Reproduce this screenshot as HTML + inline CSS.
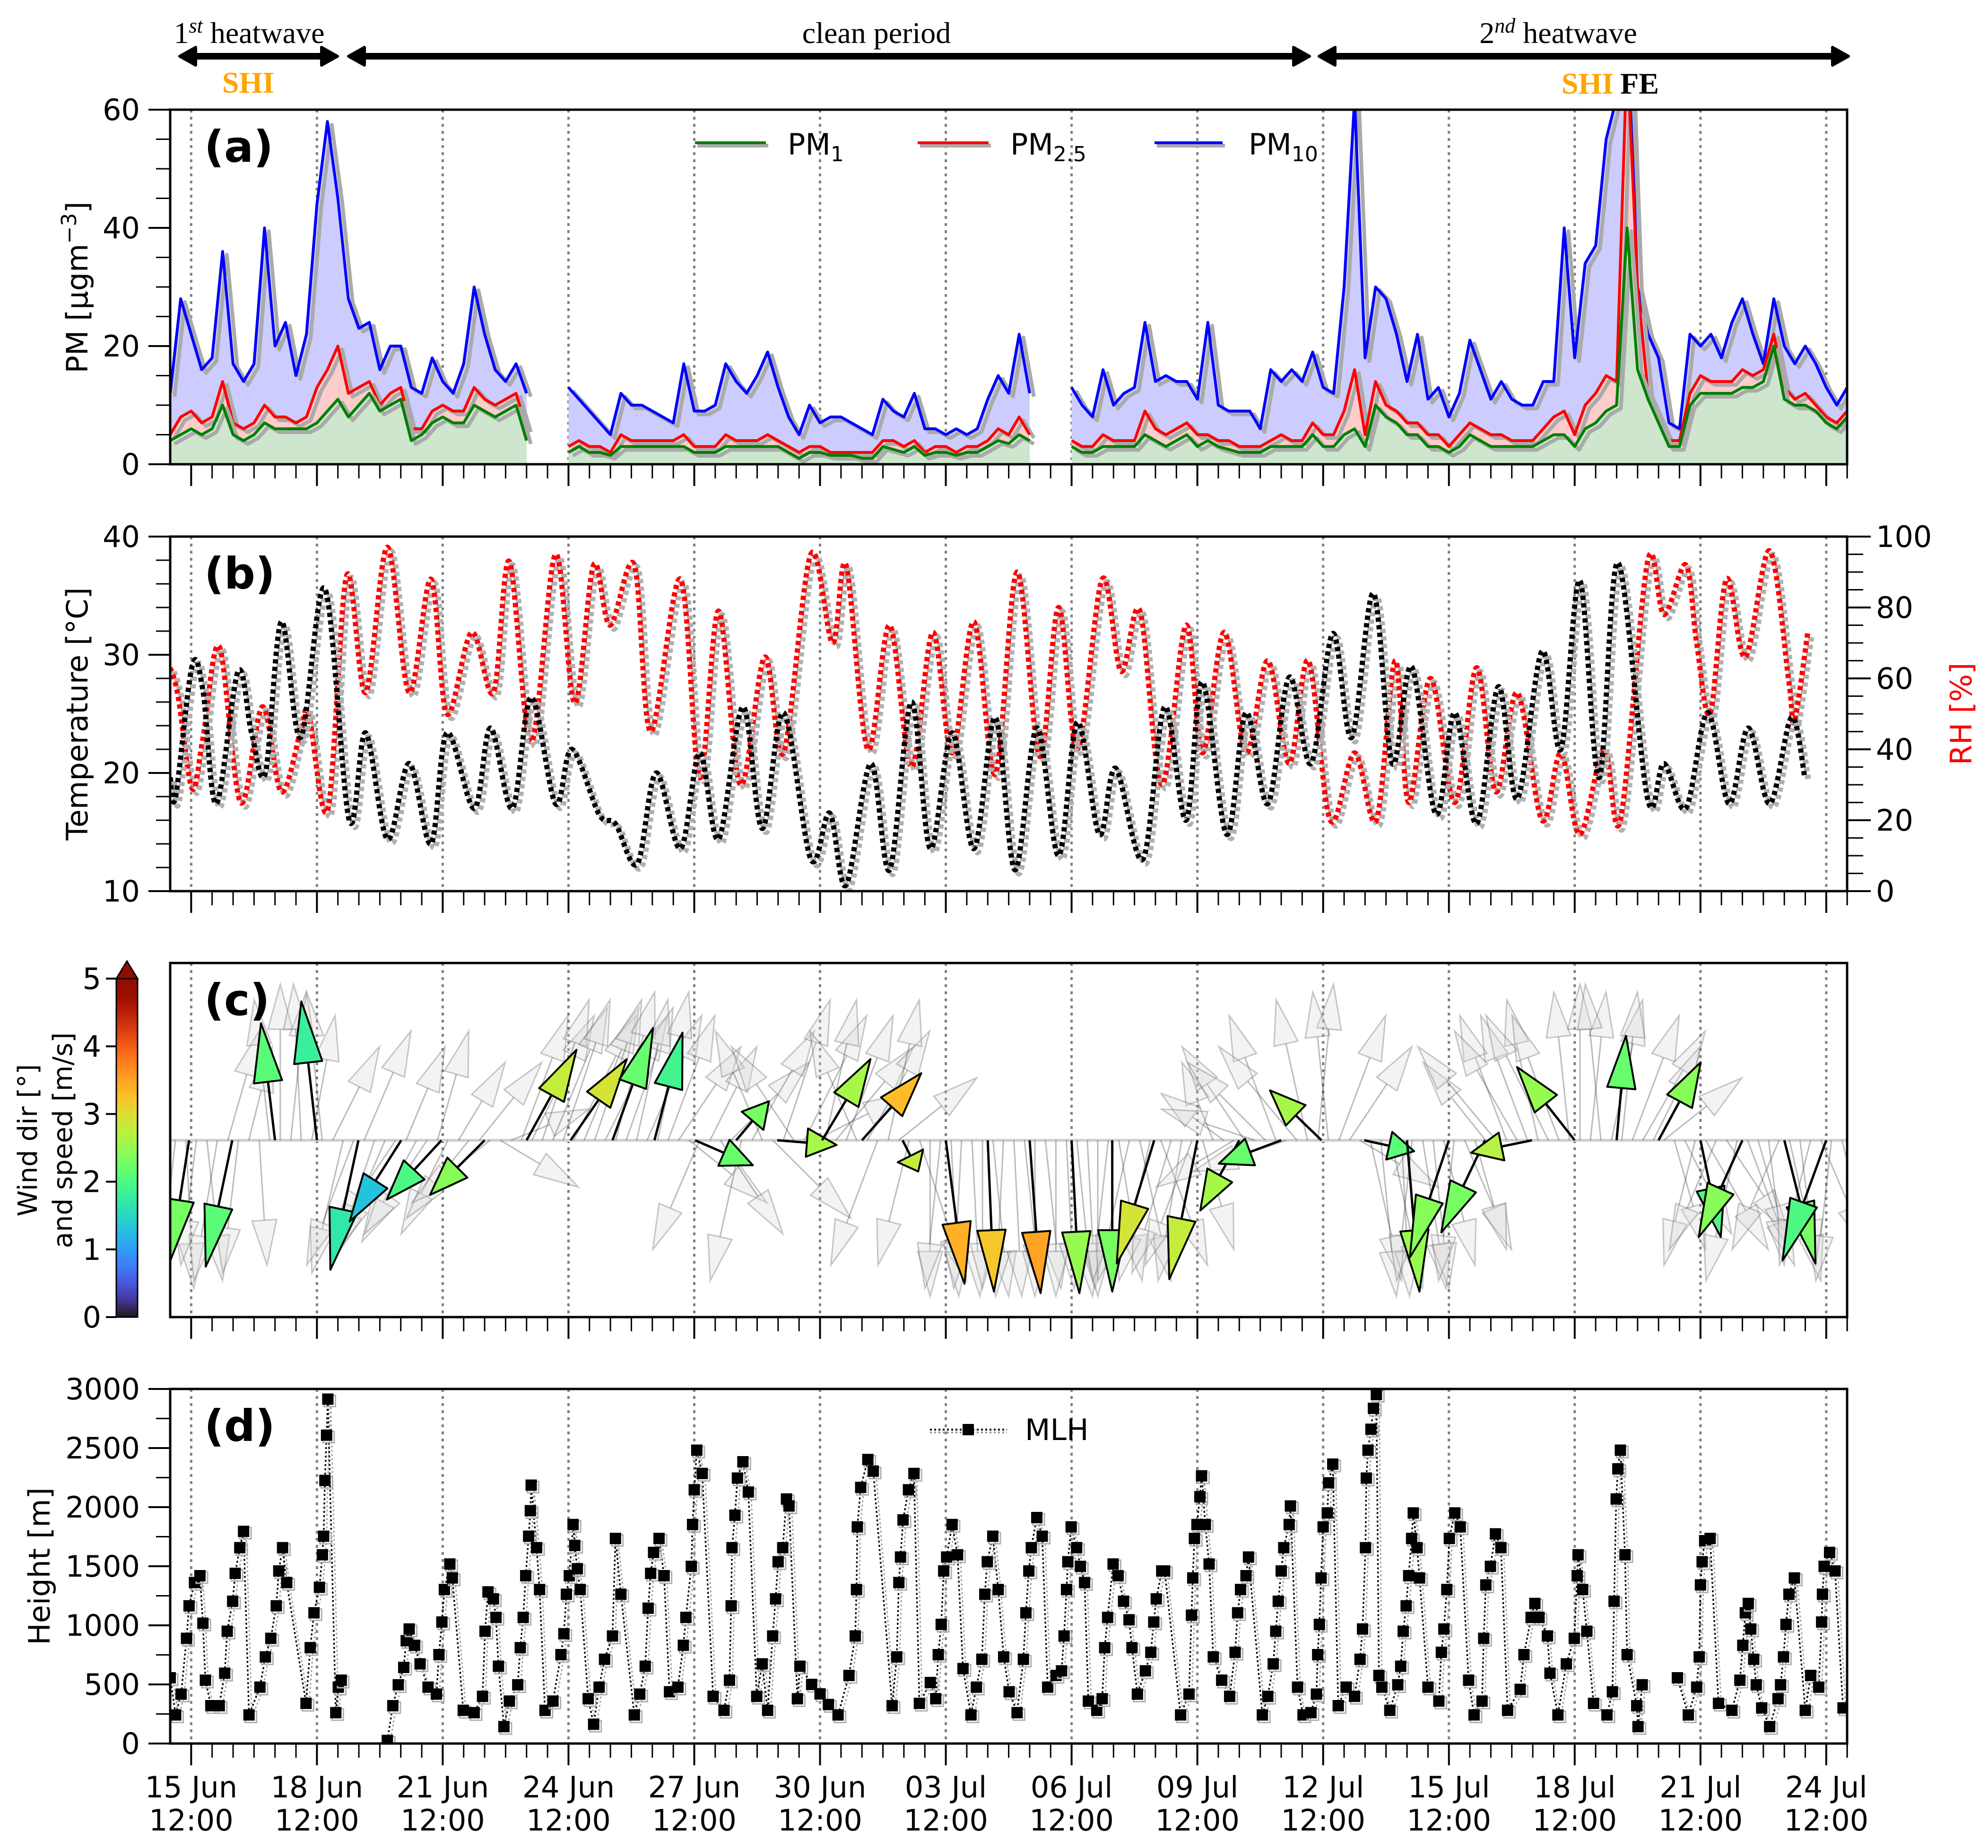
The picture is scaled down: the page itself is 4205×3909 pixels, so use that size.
<!DOCTYPE html>
<html><head><meta charset="utf-8">
<style>
html,body{margin:0;padding:0;background:#fff;}
svg{display:block;font-family:"DejaVu Sans","Liberation Sans",sans-serif;}
</style></head>
<body>
<svg id="chart" xmlns="http://www.w3.org/2000/svg" width="4205" height="3909" viewBox="0 0 4205 3909">
<defs>
<clipPath id="clipA"><rect x="360" y="232" width="3547" height="750"/></clipPath>
<clipPath id="clipB"><rect x="360" y="1135" width="3547" height="750"/></clipPath>
<clipPath id="clipC"><rect x="360" y="2037" width="3547" height="749"/></clipPath>
<clipPath id="clipD"><rect x="360" y="2938" width="3547" height="750"/></clipPath>
<linearGradient id="cbGrad" x1="0" y1="1" x2="0" y2="0"></linearGradient>
</defs>
<g id="top-annot">
<text x="527" y="91" text-anchor="middle" font-family="Liberation Serif,serif" font-size="64">1<tspan font-style="italic" font-size="44" dy="-22">st</tspan><tspan dy="22"> heatwave</tspan></text>
<text x="1854" y="91" text-anchor="middle" font-family="Liberation Serif,serif" font-size="64">clean period</text>
<text x="3296" y="91" text-anchor="middle" font-family="Liberation Serif,serif" font-size="64">2<tspan font-style="italic" font-size="44" dy="-22">nd</tspan><tspan dy="22"> heatwave</tspan></text>
<text x="525" y="196" text-anchor="middle" font-family="Liberation Serif,serif" font-weight="bold" font-size="64" fill="#FFA500">SHI</text>
<text x="3358" y="198" text-anchor="middle" font-family="Liberation Serif,serif" font-weight="bold" font-size="64" fill="#FFA500">SHI</text>
<text x="3468" y="198" text-anchor="middle" font-family="Liberation Serif,serif" font-weight="bold" font-size="64" fill="#000">FE</text>
</g>
<g id="plot"></g>
</svg>
<script>
// ---------------- DATA ----------------
const pm10 = [12,28,22,16, 18,36,17,14, 17,40,20,24, 15,22,44,58, 45,28,23,24, 16,20,20,13, 12,18,14,12, 17,30,22,16, 14,17,12,null,
 null,null,13,11, 9,7,5,12, 10,10,9,8, 7,17,9,9, 10,17,14,12, 15,19,13,8, 5,10,7,8, 8,7,6,5, 11,9,8,12, 6,6,5,6, 5,6,11,15,
 12,22,12,null, null,null,13,10, 8,16,10,12, 13,24,14,15, 14,14,11,24, 10,9,9,9, 6,16,14,16, 14,19,13,12, 30,62,18,30,
 28,22,14,22, 11,13,8,12, 21,16,11,14, 11,10,10,14, 14,40,18,34, 37,55,62,80, 30,22,18,7, 6,22,20,22, 18,24,28,22,
 17,28,20,17, 20,17,13,10, 13];
const pm25 = [5,8,9,7, 8,14,7,6, 7,10,8,8, 7,8,13,16, 20,12,13,14, 10,12,13,6, 6,9,10,9, 9,13,11,10, 11,12,6,null,
 null,null,3,4, 3,3,2,5, 4,4,4,4, 4,5,3,3, 3,5,4,4, 4,5,4,3, 2,3,3,2, 2,2,2,2, 4,4,3,4, 2,3,3,2, 3,3,4,6,
 5,8,5,null, null,null,4,3, 3,5,4,4, 4,9,6,5, 6,7,5,5, 4,4,3,3, 3,4,5,4, 4,7,5,5, 9,16,5,14,
 10,9,7,7, 5,5,3,5, 7,6,5,5, 4,4,4,6, 8,9,5,10, 12,15,14,70, 30,12,8,4, 4,12,15,14, 14,14,16,15,
 16,22,13,11, 12,10,8,7, 9];
const pm1 = [4,5,6,5, 6,10,5,4, 5,7,6,6, 6,6,7,9, 11,8,10,12, 9,10,11,4, 5,7,8,7, 7,10,9,8, 9,10,4,null,
 null,null,2,3, 2,2,1.5,3, 3,3,3,3, 3,3,2,2, 2,3,3,3, 3,3,3,2, 1,2,2,1.5, 1.5,1.5,1,1, 3,2.5,2,3, 1.5,2,2,1.5, 2,2,3,4,
 3.5,5,4,null, null,null,3,2, 2,3,3,3, 3,5,4,3, 4,5,3,4, 3,2.5,2,2, 2,3,3,3, 3,5,3,3, 5,6,3,10,
 8,7,5,5, 3,3,2,3, 5,4,3,3, 3,3,3,4, 5,5,3,6, 7,9,10,40, 16,11,7,3, 3,10,12,12, 12,12,13,13,
 14,20,11,10, 10,9,7,6, 8];
const pmStep = 0.25;

const tDays = [0,0.13,0.52,0.78,1.10,1.62,1.94,2.27,2.65,3.11,3.69,4.27,4.66,5.18,5.70,6.22,6.60,7.25,7.64,8.16,8.61,9.19,9.58,10.23,10.62,11.14,11.59,12.17,12.63,13.08,13.66,14.12,14.63,15.28,15.73,16.12,16.71,17.16,17.68,18.13,18.65,19.17,19.68,
 20.15,20.67,21.19,21.64,22.16,22.55,23.20,23.72,24.23,24.62,25.20,25.66,26.18,26.69,27.21,27.73,28.18,28.70,29.15,29.61,30.19,30.64,31.16,31.68,32.13,32.72,33.17,33.62,34.08,34.53,35.24,35.63,36.15,36.67,37.18,37.64,38.15,38.67,38.99];
const tVals = [19.6,18,29,27,17.4,28.6,23.4,20,32.8,23,35.6,16,23.4,14.4,20.8,14,23.4,17,23.8,17,26.4,17.4,22,16.5,15.7,12.3,20,13.6,21.7,14.4,25.6,15.3,25.1,12.7,16.6,10.5,20.8,11.8,26,13.6,23.4,13.6,24.7,
 11.8,23.8,13,24.3,14.8,20.4,12.7,25.6,16,27.7,14.8,25.1,17.4,28.1,20.8,31.8,23,35.2,20.8,29,16.5,25.1,15.7,27.3,17.8,30.3,22,36.3,19.6,37.8,17.8,20.8,17,25.1,17.4,23.8,17.4,24.7,19.6];
const rhDays = [0,0.19,0.52,0.78,1.17,1.68,2.20,2.65,3.11,3.30,3.76,4.21,4.66,5.18,5.70,6.22,6.60,7.19,7.71,8.09,8.61,9.19,9.65,10.10,10.49,11.07,11.46,12.17,12.63,13.08,13.60,14.18,14.63,15.28,15.80,16.12,16.64,17.16,17.68,18.19,18.65,19.17,19.68,20.20,
 20.74,21.19,21.64,22.23,22.68,23.13,23.65,24.23,24.62,25.14,25.66,26.18,26.69,27.15,27.67,28.25,28.77,29.22,29.54,30.06,30.64,31.16,31.62,32.13,32.72,33.17,33.62,34.20,34.59,35.24,35.63,36.15,36.41,36.73,37.12,37.57,38.15,38.61,38.74,39.06];
const rhVals = [63,55,29,43,69,25,52,28,45,50,23,89,56,97,56,88,50,73,56,93,42,95,53,92,75,92,45,88,32,79,30,66,39,95,70,92,40,75,35,73,39,76,33,90,
 38,80,40,88,62,79,30,75,39,73,39,65,36,65,20,39,20,65,25,60,25,63,28,56,20,39,16,40,20,93,78,92,70,50,88,66,96,59,48,73];

// grey wind arrows (u,v components, every 6 h, unit = full length)
const greyU = [-0.1,0.05,-0.1,0.1, -0.15,0.2,-0.1,0.15, 0.05,-0.1,0,0.1, -0.05,0.15,-0.1,0.3, -0.2,-0.3,0.3,-0.25, -0.3,-0.4,0.25,-0.35, -0.4,0.2,-0.3,0.3, -0.4,0.4,-0.5,0.5,
 0.5,0.3,0.4,0.3, 0.35,0.3,0.4,0.35, 0.3,0.4,0.25,0.3, 0.2,0.35,0.2,0.3, 0.4,0.5,-0.3,0.3, 0.4,0.5,-0.2,0.4, -0.3,0.5,0.3,-0.4, 0.4,0.6,0.2,0.5, 0.3,-0.3,0.4,-0.3, 0.2,0.5,-0.2,0.3,
 0,-0.1,0.05,-0.05, 0.05,0,0.1,-0.05, 0.05,0.1,0,0.1, 0,0.05,0.1,0.05, 0,-0.1,0.15,-0.2, 0.2,-0.2,0.3,-0.25, -0.15,-0.3,0.2,-0.2, -0.4,-0.5,-0.4,-0.6, -0.5,-0.3,-0.6,-0.5, -0.2,0.1,-0.1,0.3,
 0.4,0.5,0.2,0.1, 0.2,0.05,-0.1,0.15, 0.1,0.2,-0.1,0.3, 0.2,-0.4,-0.5,-0.3, -0.4,-0.3,-0.2,-0.4, -0.3,-0.1,0,0.1, -0.1,0.2,0.1,0.3, 0.4,0.3,0.5,0.2, 0.3,-0.2,0.4,-0.3, 0.4,-0.2,0.3,0.2, 0.1,-0.3,0.2,0.1, -0.2,0.3,-0.1,0.2];
const greyV = [-0.9,-0.95,-0.8,-0.9, -0.9,0.7,-0.85,0.6, -0.8,0.9,1,0.95, 1,0.8,0.95,0.6, -0.85,-0.8,0.7,-0.75, -0.7,-0.6,0.6,-0.65, -0.6,0.7,-0.6,0.5, -0.5,0.5,-0.4,-0.3,
 0.2,0.8,0.8,0.9, 0.85,0.9,0.8,0.85, 0.9,0.8,0.95,0.85, 0.9,0.8,0.95,0.8, 0.6,-0.4,-0.7,0.6, -0.6,0.5,-0.9,0.7, 0.7,-0.5,0.9,0.6, 0.8,0.3,0.9,0.6, 0.8,0.7,0.7,-0.8, 0.9,0.4,-0.8,-0.9,
 -1,-0.95,-1,-0.95, -1,-0.95,-1,-1, -1,-0.95,-1,-0.95, -1,-0.95,-1,-0.95, -1,-0.9,-0.9,-0.9, -0.9,-0.9,-0.8,-0.85, -0.9,-0.8,-0.7,0.5, 0.3,-0.3,0.6,0.2, 0.5,0.8,-0.2,0.6, 0.9,1,0.95,0.8,
 0.6,-0.3,-0.9,-1, -0.95,-1,-0.9,-0.95, -0.95,-0.8,-0.9,-0.7, -0.7,0.5,0.6,0.8, 0.7,0.8,0.9,0.8, 0.8,0.95,1,0.95, 1,0.9,0.95,0.8, 0.7,0.6,0.4,-0.7, -0.6,-0.8,-0.7,-0.7, -0.6,-0.9,-0.8,-0.7, -0.8,-0.7,-0.9,-0.8, -0.8,-0.7,-0.9,-0.8];
const greyStep = 0.25;

// coloured wind arrows
const cDays = [0.45,1.48,2.5,3.5,4.49,5.51,6.47,7.5,8.5,9.55,10.55,11.55,12.52,13.5,14.48,15.55,16.5,17.47,18.5,19.5,20.5,21.5,22.47,23.47,24.5,25.5,26.5,27.46,28.48,29.5,30.5,31.36,32.48,33.5,34.5,35.5,36.5,37.5,38.5,39.5];
const cU = [-0.12,-0.17,-0.09,-0.10,-0.18,-0.33,-0.35,-0.35,0.32,0.36,0.26,0.18,0.37,0.21,0.38,0.31,0.38,0.1,0.12,0.04,0.07,0.05,0,-0.24,-0.18,-0.25,-0.40,-0.33,0.32,0.08,-0.25,-0.28,-0.39,-0.37,0.06,0.27,0.13,-0.28,0.20,-0.28];
const cV = [-0.77,-0.81,0.75,0.89,-0.83,-0.52,-0.38,-0.35,0.58,0.52,0.72,0.69,-0.16,0.25,-0.03,0.52,0.43,-0.2,-0.92,-0.97,-0.98,-0.98,-0.97,-0.79,-0.89,-0.45,-0.15,0.32,-0.07,-0.97,-0.75,-0.59,-0.08,0.47,0.67,0.50,-0.62,-0.62,-0.79,-0.77];
const cSpeed = [2.3,2.1,2.1,1.8,1.7,1.3,2.0,2.4,2.8,2.9,2.2,1.9,2.2,2.3,2.6,2.6,3.3,2.8,3.4,3.2,3.5,2.5,2.3,2.9,2.8,2.6,2.2,2.6,2.1,2.5,2.4,2.3,2.7,2.5,2.2,2.4,2.0,2.4,2.3,2.0];

const mlhDays = [0,0.13,0.26,0.39,0.45,0.58,0.71,0.78,0.84,0.97,1.17,1.30,1.36,1.49,1.55,1.66,1.75,1.88,2.14,2.27,2.40,2.53,2.59,2.68,2.78,3.24,3.34,3.43,3.56,3.63,3.66,3.69,3.73,3.76,3.95,4.01,4.08,null,
 5.18,5.31,5.44,5.57,5.63,5.70,5.83,5.96,6.15,6.35,6.41,6.48,6.54,6.67,6.73,6.99,7.25,7.45,7.51,7.58,7.71,7.77,7.83,7.96,8.09,8.29,8.35,8.42,8.48,8.55,8.59,8.61,8.74,8.81,
 8.94,9.13,9.32,9.39,9.45,9.52,9.61,9.65,9.71,9.78,9.97,10.1,10.23,10.36,10.55,10.62,10.75,11.07,11.2,11.33,11.4,11.46,11.53,11.66,11.78,11.91,12.11,12.24,12.3,12.43,12.46,12.5,12.56,12.69,
 12.95,13.21,13.34,13.38,13.4,13.47,13.53,13.66,13.79,13.99,14.12,14.25,14.37,14.44,14.5,14.61,14.7,14.76,14.96,15.02,15.3,15.5,15.7,15.93,16.19,16.34,16.37,16.39,16.47,16.64,16.77,
 17.22,17.33,17.38,17.42,17.48,17.61,17.74,17.87,18.13,18.26,18.32,18.39,18.45,18.52,18.65,18.78,18.91,19.1,19.23,19.36,19.43,19.49,19.62,19.75,19.88,20.01,20.2,
 20.35,20.41,20.48,20.54,20.67,20.8,20.93,21.13,21.26,21.32,21.38,21.41,21.49,21.62,21.71,21.81,21.9,22.1,22.23,22.29,22.36,22.49,22.61,22.74,22.87,22.94,23.07,23.26,23.39,23.46,23.52,23.65,23.72,
 24.1,24.3,24.36,24.39,24.43,24.49,24.56,24.6,24.69,24.78,24.88,25.08,25.27,25.4,25.46,25.53,25.66,25.72,26.05,26.18,26.31,26.37,26.43,26.5,26.56,26.69,26.72,26.89,
 27.02,27.21,27.34,27.37,27.41,27.45,27.5,27.6,27.63,27.73,27.86,28.05,28.25,28.38,28.44,28.51,28.53,28.57,28.64,28.7,28.77,28.83,28.9,29.09,29.28,29.35,29.41,29.48,29.54,29.61,29.65,29.74,29.8,
 30.0,30.26,30.32,30.38,30.45,30.51,30.64,30.77,30.97,31.1,31.29,31.33,31.38,31.49,31.61,31.74,31.9,32.2,32.29,32.46,32.55,32.65,32.85,32.91,33.1,33.3,33.49,33.56,33.58,33.69,33.79,33.95,
 34.27,34.4,34.44,34.49,34.53,34.59,34.7,34.75,34.98,35.01,35.11,null,35.95,36.21,36.41,36.47,36.5,36.54,36.6,36.73,36.93,37.25,37.44,37.51,37.57,37.64,37.7,37.77,37.83,37.96,38.15,38.35,38.41,38.48,38.54,38.61,38.74,
 39.0,39.13,39.32,39.39,39.41,39.45,39.58,39.71,39.9];
const mlhVals = [556,242,418,890,1165,1362,1420,1018,536,320,320,595,950,1204,1440,1657,1795,242,477,733,890,1165,1460,1657,1362,340,811,1106,1322,1597,1754,2226,2609,2914,261,477,536,null,
 26,320,497,644,870,969,831,674,477,418,752,1028,1303,1519,1401,281,261,399,950,1283,1224,1067,654,143,359,497,811,1067,1420,1754,1970,2186,1657,1303,
 281,359,752,929,1263,1420,1853,1676,1479,1303,379,163,477,713,910,1735,1263,242,418,654,1145,1440,1617,1735,1420,438,477,831,1067,1499,1853,2147,2482,2285,
 399,281,536,1165,1657,1932,2246,2384,2128,399,674,281,910,1224,1538,1657,2069,2010,379,654,500,420,330,242,576,910,1303,1833,2167,2403,2305,
 320,733,1362,1578,1892,2147,2285,340,516,379,752,1008,1460,1578,1853,1597,634,242,477,713,1263,1538,1754,1303,733,438,261,
 713,1106,1460,1657,1912,1754,477,576,615,910,1303,1538,1833,1657,1499,1362,359,281,379,811,1067,1519,1420,1204,1047,811,418,615,772,1028,1224,1460,1460,
 242,418,1086,1401,1735,1853,2088,2265,1853,1519,733,536,399,772,1106,1303,1420,1578,242,399,674,950,1204,1460,1657,1853,2010,477,
 242,261,418,752,1008,1401,1833,1951,2206,2364,320,477,399,713,969,1657,2246,2482,2659,2836,2953,576,477,281,497,654,950,1165,1420,1735,1951,1657,1401,
 477,359,772,969,1303,1735,1951,1833,536,242,359,890,1342,1499,1774,1657,281,458,752,1067,1185,1067,910,595,242,674,890,1420,1597,1303,950,340,
 242,438,1204,2069,2324,2482,1597,752,320,143,497,null,556,242,477,733,1342,1538,1716,1735,340,281,536,831,1106,1185,969,713,497,301,143,379,497,733,1008,1263,1401,
 281,576,477,1028,1263,1499,1617,1460,301];

const dateLabels = ["15 Jun","18 Jun","21 Jun","24 Jun","27 Jun","30 Jun","03 Jul","06 Jul","09 Jul","12 Jul","15 Jul","18 Jul","21 Jul","24 Jul"];
const pmTicks = [0,20,40,60];
const tTicks = [10,20,30,40];
const rhTicks = [0,20,40,60,80,100];
const cbTicks = [0,1,2,3,4,5];
const mlhTicks = [0,500,1000,1500,2000,2500,3000];

// ---------------- HELPERS ----------------
const NS = "http://www.w3.org/2000/svg";
const root = document.getElementById('plot');
function mk(tag, attrs, parent) {
  const e = document.createElementNS(NS, tag);
  for (const k in attrs) e.setAttribute(k, attrs[k]);
  (parent || root).appendChild(e);
  return e;
}
const L = 360, R = 3907;
const X = d => L + d * 88.68;
const P = {a:[232,982], b:[1135,1885], c:[2037,2786], d:[2938,3688]};
const yPM = v => 982 - v / 60 * 750;
const yT = v => 1885 - (v - 10) / 30 * 750;
const yRH = v => 1885 - v / 100 * 750;
const yMLH = v => 3688 - v / 3000 * 750;
const windBase = 2412, windScale = 330;
function turbo(t) {
  t = Math.max(0, Math.min(1, t));
  const r = 0.13572138 + t*(4.61539260 + t*(-42.66032258 + t*(132.13108234 + t*(-152.94239396 + t*59.28637943))));
  const g = 0.09140261 + t*(2.19418839 + t*(4.84296658 + t*(-14.18503333 + t*(4.27729857 + t*2.82956604))));
  const b = 0.10667330 + t*(12.64194608 + t*(-60.58204836 + t*(110.36276771 + t*(-89.90310912 + t*27.34824973))));
  const c = v => Math.round(Math.max(0, Math.min(1, v)) * 255);
  return `rgb(${c(r)},${c(g)},${c(b)})`;
}
function smooth(pts) {
  if (pts.length < 2) return '';
  let d = `M${pts[0][0]},${pts[0][1]}`;
  for (let i = 0; i < pts.length - 1; i++) {
    const p0 = pts[Math.max(0, i-1)], p1 = pts[i], p2 = pts[i+1], p3 = pts[Math.min(pts.length-1, i+2)];
    const c1x = p1[0] + (p2[0]-p0[0])/6, c1y = p1[1] + (p2[1]-p0[1])/6;
    const c2x = p2[0] - (p3[0]-p1[0])/6, c2y = p2[1] - (p3[1]-p1[1])/6;
    d += ` C${c1x.toFixed(1)},${c1y.toFixed(1)} ${c2x.toFixed(1)},${c2y.toFixed(1)} ${p2[0].toFixed(1)},${p2[1].toFixed(1)}`;
  }
  return d;
}
function segments(days, vals, yf) {
  const segs = []; let cur = [];
  for (let i = 0; i < vals.length; i++) {
    if (vals[i] === null || days[i] === null) { if (cur.length) segs.push(cur); cur = []; continue; }
    cur.push([X(days[i]), yf(vals[i])]);
  }
  if (cur.length) segs.push(cur);
  return segs;
}

// ---------------- GRID / FRAMES ----------------
const gridG = mk('g', {});


for (const key of ['a','b','c','d']) {
  for (let k = 0; k < 14; k++) {
    const gl = mk('line', {x1:X(0.5+3*k), x2:X(0.5+3*k), y1:P[key][0], y2:P[key][1], stroke:'#808080', 'stroke-width':5, 'stroke-dasharray':'6 9'}, gridG);
    
    
  }
}

// ---------------- PANEL A ----------------
const gA = mk('g', {'clip-path':'url(#clipA)'});


const pmDays = pm10.map((_, i) => i * pmStep);
const pmSeries = [[pm10,'#ccccff','#0000ff','pm10'],[pm25,'#ffcccc','#ff0000','pm2.5'],[pm1,'#cde6cd','#007f00','pm1']];
for (const [arr, fillc, linec, nm] of pmSeries) {
  for (const seg of segments(pmDays, arr, yPM)) {
    const poly = seg.map(p => p.join(',')).join(' ');
    const f = mk('polygon', {points: `${seg[0][0]},982 ` + poly + ` ${seg[seg.length-1][0]},982`, fill: fillc}, gA);
    
    
  }
}
for (const [arr, fillc, linec, nm] of pmSeries) {
  for (const seg of segments(pmDays, arr, yPM)) {
    const sh = mk('polyline', {points: seg.map(p => (p[0]+9)+','+(p[1]+7)).join(' '), fill:'none', stroke:'#aaaaaa', 'stroke-width':8, 'stroke-linejoin':'round'}, gA);
    
    
    const ln = mk('polyline', {points: seg.map(p => p.join(',')).join(' '), fill:'none', stroke:linec, 'stroke-width':6, 'stroke-linejoin':'round'}, gA);
    
    
  }
}

// ---------------- PANEL B ----------------
const gB = mk('g', {'clip-path':'url(#clipB)'});


const rhPts = segments(rhDays, rhVals, yRH)[0];
const tPts = segments(tDays, tVals, yT)[0];
for (const [pts, col, nm] of [[rhPts,'#ff0000','rh'],[tPts,'#000000','temperature']]) {
  const sh = mk('path', {d: smooth(pts.map(p => [p[0]+8, p[1]+8])), fill:'none', stroke:'#b0b0b0', 'stroke-width':12, 'stroke-dasharray':'9 7'}, gB);
  
  
  const ln = mk('path', {d: smooth(pts), fill:'none', stroke:col, 'stroke-width':11, 'stroke-dasharray':'9 7'}, gB);
  
  
}

// ---------------- PANEL C ----------------
const gC = mk('g', {'clip-path':'url(#clipC)'});


const bl = mk('line', {x1:X(0), x2:X(40), y1:windBase, y2:windBase, stroke:'#d0d0d0', 'stroke-width':6}, gC);


function arrow(x0, y0, dx, dy, hlMax, hw, shaftStyle, headStyle, parent, name) {
  const len = Math.hypot(dx, dy) || 1;
  const ux = dx/len, uy = dy/len, nx = -uy, ny = ux;
  const tx = x0+dx, ty = y0+dy;
  const hl = Math.min(hlMax, 0.5*len);
  const bx = tx - ux*hl, by = ty - uy*hl;
  const s = mk('line', Object.assign({x1:x0, y1:y0, x2:bx, y2:by}, shaftStyle), parent);
  
  
  const h = mk('polygon', Object.assign({points:`${tx},${ty} ${bx+nx*hw},${by+ny*hw} ${bx-nx*hw},${by-ny*hw}`}, headStyle), parent);
  
  
}
for (let i = 0; i < greyU.length; i++) {
  const d = i * greyStep + 0.125;
  arrow(X(d), windBase, greyU[i]*windScale, -greyV[i]*windScale, 95, 26,
    {stroke:'rgba(60,60,60,0.35)', 'stroke-width':3},
    {fill:'rgba(215,215,215,0.3)', stroke:'rgba(100,100,100,0.35)', 'stroke-width':3}, gC, 'grey-arrow');
}
for (let i = 0; i < cDays.length; i++) {
  arrow(X(cDays[i]), windBase, cU[i]*windScale, -cV[i]*windScale, 130, 30,
    {stroke:'#000', 'stroke-width':5},
    {fill:turbo(cSpeed[i]/5), stroke:'#000', 'stroke-width':4, 'stroke-linejoin':'round'}, gC, 'wind-arrow');
}
// colorbar
const grad = document.getElementById('cbGrad');
for (let k = 0; k <= 20; k++) {
  const st = mk('stop', {offset: (k/20).toFixed(2), 'stop-color': turbo(k/20)}, grad);
  
  
}
const cb = mk('rect', {x:246, y:2070, width:45, height:716, fill:'url(#cbGrad)', stroke:'#000', 'stroke-width':3});


const cbt = mk('polygon', {points:'246,2070 291,2070 268.5,2033', fill:turbo(1), stroke:'#000', 'stroke-width':3});


for (const v of cbTicks) {
  const y = 2786 - v/5*716;
  const tk = mk('line', {x1:246, x2:224, y1:y, y2:y, stroke:'#000', 'stroke-width':4});
  
  
  const tl = mk('text', {x:214, y:y+22, 'text-anchor':'end', 'font-size':62});
  tl.textContent = v;
  
  
}

// ---------------- PANEL D ----------------
const gD = mk('g', {'clip-path':'url(#clipD)'});


for (const seg of segments(mlhDays, mlhVals, yMLH)) {
  const sh = mk('polyline', {points: seg.map(p => (p[0]+6)+','+(p[1]+6)).join(' '), fill:'none', stroke:'#a0a0a0', 'stroke-width':3, 'stroke-dasharray':'4 5'}, gD);
  
  
  const ln = mk('polyline', {points: seg.map(p => p.join(',')).join(' '), fill:'none', stroke:'#000', 'stroke-width':3.5, 'stroke-dasharray':'4 5'}, gD);
  
  
}
for (let i = 0; i < mlhVals.length; i++) {
  if (mlhVals[i] === null) continue;
  const x = X(mlhDays[i]), y = yMLH(mlhVals[i]);
  const s2 = mk('rect', {x:x-8, y:y-8, width:24, height:24, fill:'none', stroke:'#b0b0b0', 'stroke-width':3}, gD);
  
  
  const s = mk('rect', {x:x-12, y:y-12, width:24, height:24, fill:'#000'}, gD);
  
  
}

// ---------------- AXES ----------------
for (const key of ['a','b','c','d']) {
  const fr = mk('rect', {x:L, y:P[key][0], width:R-L, height:P[key][1]-P[key][0], fill:'none', stroke:'#000', 'stroke-width':5});
  
  
  for (let k = 0; k <= 79; k++) {
    const major = (k % 6 === 0);
    const x = X(0.5 + 0.5*k);
    if (x > R + 1) continue;
    const tk = mk('line', {x1:x, x2:x, y1:P[key][1], y2:P[key][1] + (major ? 46 : 30), stroke:'#000', 'stroke-width': major ? 4 : 3});
    
    
  }
  const tkE = mk('line', {x1:R, x2:R, y1:P[key][1], y2:P[key][1]+30, stroke:'#000', 'stroke-width':3});
  
  
}
function yAxis(ticks, minorStep, lo, hi, yf, name, side) {
  for (let v = lo; v <= hi + 1e-9; v += minorStep) {
    const major = ticks.some(t => Math.abs(t - v) < 1e-9);
    const y = yf(v);
    const x2 = side === 'left' ? L - (major ? 46 : 30) : R + (major ? 50 : 34);
    const tk = mk('line', {x1: side === 'left' ? L : R, x2: x2, y1:y, y2:y, stroke:'#000', 'stroke-width': major ? 4 : 3});
    
    
  }
  for (const v of ticks) {
    const t = mk('text', {x: side === 'left' ? 296 : 3968, y: yf(v) + 22, 'text-anchor': side === 'left' ? 'end' : 'start', 'font-size':62});
    t.textContent = v;
    
    
  }
}
yAxis(pmTicks, 5, 0, 60, yPM, 'pm-y-axis', 'left');
yAxis(tTicks, 2, 10, 40, yT, 'temperature-y-axis', 'left');
yAxis(rhTicks, 5, 0, 100, yRH, 'rh-y-axis', 'right');
yAxis(mlhTicks, 250, 0, 3000, yMLH, 'mlh-y-axis', 'left');
for (let k = 0; k < dateLabels.length; k++) {
  const x = X(0.5 + 3*k);
  const t1 = mk('text', {x:x, y:3802, 'text-anchor':'middle', 'font-size':62});
  t1.textContent = dateLabels[k];
  
  
  const t2 = mk('text', {x:x, y:3872, 'text-anchor':'middle', 'font-size':62});
  t2.textContent = '12:00';
  
  
}

// top arrows
const arrowsTop = [[380,714],[737,2770],[2790,3910]];
for (const [x1, x2] of arrowsTop) {
  const ln = mk('line', {x1:x1+20, x2:x2-20, y1:119, y2:119, stroke:'#000', 'stroke-width':14});
  
  
  const h1 = mk('polygon', {points:`${x1},119 ${x1+34},100 ${x1+34},138`, fill:'#000', 'stroke-linejoin':'round', stroke:'#000', 'stroke-width':6});
  
  
  const h2 = mk('polygon', {points:`${x2},119 ${x2-34},100 ${x2-34},138`, fill:'#000', 'stroke-linejoin':'round', stroke:'#000', 'stroke-width':6});
  
  
}
</script>
<div style="position:absolute;left:0;top:0;width:4205px;height:3909px;pointer-events:none;">
<svg width="4205" height="3909" style="position:absolute;left:0;top:0" xmlns="http://www.w3.org/2000/svg" font-family="DejaVu Sans, Liberation Sans, sans-serif">
<text x="432" y="342" font-size="92" font-weight="bold">(a)</text>
<text x="432" y="1245" font-size="92" font-weight="bold">(b)</text>
<text x="432" y="2147" font-size="92" font-weight="bold">(c)</text>
<text x="432" y="3048" font-size="92" font-weight="bold">(d)</text>
<g>
<line x1="1475" x2="1625" y1="308" y2="308" stroke="#aaa" stroke-width="8"/>
<line x1="1470" x2="1620" y1="302" y2="302" stroke="#007f00" stroke-width="6"/>
<text x="1666" y="327" font-size="62">PM<tspan font-size="44" dy="14">1</tspan></text>
<line x1="1946" x2="2096" y1="308" y2="308" stroke="#aaa" stroke-width="8"/>
<line x1="1941" x2="2091" y1="302" y2="302" stroke="#ff0000" stroke-width="6"/>
<text x="2137" y="327" font-size="62">PM<tspan font-size="44" dy="14">2.5</tspan></text>
<line x1="2447" x2="2591" y1="308" y2="308" stroke="#aaa" stroke-width="8"/>
<line x1="2442" x2="2586" y1="302" y2="302" stroke="#0000ff" stroke-width="6"/>
<text x="2641" y="327" font-size="62">PM<tspan font-size="44" dy="14">10</tspan></text>
</g>
<g>
<line x1="1967" x2="2130" y1="3030" y2="3030" stroke="#999" stroke-width="4" stroke-dasharray="4 5"/>
<line x1="1967" x2="2130" y1="3024" y2="3024" stroke="#000" stroke-width="4" stroke-dasharray="4 5"/>
<rect x="2036" y="3012" width="24" height="24" fill="#000"/>
<text x="2168" y="3046" font-size="62">MLH</text>
</g>
<text transform="translate(185,608) rotate(-90)" text-anchor="middle" font-size="62">PM [μgm<tspan font-size="44" dy="-24">−3</tspan><tspan dy="24">]</tspan></text>
<text transform="translate(185,1510) rotate(-90)" text-anchor="middle" font-size="62">Temperature [°C]</text>
<text transform="translate(4170,1510) rotate(-90)" text-anchor="middle" font-size="62" fill="#ff0000">RH [%]</text>
<text transform="translate(78,2412) rotate(-90)" text-anchor="middle" font-size="56">Wind dir [°]</text>
<text transform="translate(152,2412) rotate(-90)" text-anchor="middle" font-size="56">and speed [m/s]</text>
<text transform="translate(105,3313) rotate(-90)" text-anchor="middle" font-size="62">Height [m]</text>
</svg>
</div>
</body></html>
